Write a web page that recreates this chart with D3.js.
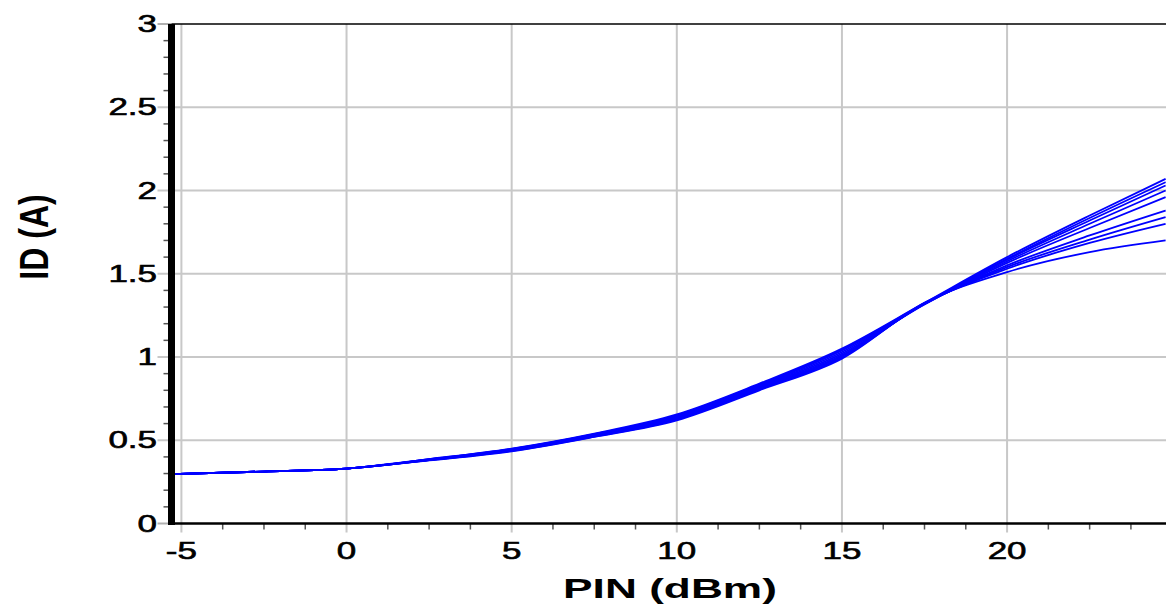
<!DOCTYPE html>
<html>
<head>
<meta charset="utf-8">
<script src="https://cdn.jsdelivr.net/npm/d3@7"></script>
<style>
  html, body { margin: 0; padding: 0; background: #fff; }
  svg { display: block; }
  text { font-family: "Liberation Sans", Arial, sans-serif; fill: #000; }
</style>
</head>
<body>
<svg id="chart" width="1166" height="604"></svg>
<script>
// Input power sweep (dBm)
const pin = [-5.3, -2.5, 0, 2.5, 5, 7.5, 10, 12.5, 15, 17.5, 20, 22.5, 24.8];

// Drain current (A) for each swept condition
const id1 = [0.297, 0.312, 0.330, 0.387, 0.450, 0.540, 0.655, 0.840, 1.050, 1.325, 1.600, 1.850, 2.070];
const id2 = [0.297, 0.312, 0.330, 0.386, 0.448, 0.537, 0.650, 0.835, 1.045, 1.322, 1.590, 1.835, 2.050];
const id3 = [0.297, 0.312, 0.330, 0.385, 0.446, 0.535, 0.645, 0.830, 1.040, 1.320, 1.585, 1.820, 2.030];
const id4 = [0.297, 0.312, 0.330, 0.384, 0.444, 0.532, 0.640, 0.825, 1.030, 1.318, 1.575, 1.800, 2.000];
const id5 = [0.297, 0.312, 0.330, 0.383, 0.442, 0.530, 0.636, 0.820, 1.020, 1.316, 1.565, 1.775, 1.960];
const id6 = [0.297, 0.312, 0.330, 0.382, 0.440, 0.528, 0.632, 0.815, 1.012, 1.318, 1.550, 1.730, 1.880];
const id7 = [0.297, 0.312, 0.330, 0.381, 0.438, 0.525, 0.628, 0.810, 1.005, 1.320, 1.540, 1.705, 1.840];
const id8 = [0.297, 0.312, 0.330, 0.380, 0.436, 0.522, 0.624, 0.805, 0.998, 1.322, 1.530, 1.685, 1.800];
const id9 = [0.297, 0.312, 0.330, 0.379, 0.434, 0.520, 0.620, 0.800, 0.990, 1.325, 1.510, 1.630, 1.700];
const seriesList = [id1, id2, id3, id4, id5, id6, id7, id8, id9];

// Tick labels
const xTicks = [-5, 0, 5, 10, 15, 20];
const yTicks = [0, 0.5, 1, 1.5, 2, 2.5, 3];

const svg = d3.select("#chart");
const x = d3.scaleLinear().domain([-5.3, 24.8]).range([171.5, 1165.6]);
const y = d3.scaleLinear().domain([0, 3]).range([523.5, 24]);
const TXS = 1.52; // horizontal glyph stretch

// minor tick positions
const xMinor = d3.range(-3.75, 24.8, 1.25).filter(v => Math.abs(v / 5 - Math.round(v / 5)) > 1e-6);
const yMinor = d3.range(0.1, 3, 0.1).filter(v => Math.abs(v * 2 - Math.round(v * 2)) > 1e-6);

// grid
const grid = svg.append("g");
grid.selectAll("line.v").data(xTicks).join("line")
  .attr("x1", d => x(d)).attr("x2", d => x(d))
  .attr("y1", y(3)).attr("y2", y(0) + 9)
  .attr("stroke", "#c8c8c8").attr("stroke-width", 2);
grid.selectAll("line.h").data(yTicks.filter(v => v > 0 && v < 3)).join("line")
  .attr("x1", x(-5.3) - 14).attr("x2", 1166)
  .attr("y1", d => y(d)).attr("y2", d => y(d))
  .attr("stroke", "#c8c8c8").attr("stroke-width", 2);

// major ticks outside the left axis at the ends
svg.append("g").selectAll("line").data([0, 3]).join("line")
  .attr("x1", x(-5.3) - 14).attr("x2", x(-5.3))
  .attr("y1", d => y(d)).attr("y2", d => y(d))
  .attr("stroke", "#b0b0b0").attr("stroke-width", 2);

// minor ticks
svg.append("g").selectAll("line").data(xMinor).join("line")
  .attr("x1", d => x(d)).attr("x2", d => x(d))
  .attr("y1", y(0)).attr("y2", y(0) + 6)
  .attr("stroke", "#555").attr("stroke-width", 1.5);
svg.append("g").selectAll("line").data(yMinor).join("line")
  .attr("x1", x(-5.3) - 8).attr("x2", x(-5.3))
  .attr("y1", d => y(d)).attr("y2", d => y(d))
  .attr("stroke", "#555").attr("stroke-width", 1.5);

// curves
const line = d3.line().x((d, i) => x(pin[i])).y(d => y(d)).curve(d3.curveMonotoneX);
svg.append("g").selectAll("path").data(seriesList).join("path")
  .attr("d", line)
  .attr("fill", "none")
  .attr("stroke", "#0000ff")
  .attr("stroke-width", 1.8);

// frame: top border, x axis, thick y axis
svg.append("line").attr("x1", x(-5.3)).attr("x2", 1166).attr("y1", y(3)).attr("y2", y(3))
  .attr("stroke", "#000").attr("stroke-width", 1.5);
svg.append("line").attr("x1", x(-5.3)).attr("x2", 1166).attr("y1", y(0)).attr("y2", y(0))
  .attr("stroke", "#000").attr("stroke-width", 2.5);
svg.append("line").attr("x1", x(-5.3)).attr("x2", x(-5.3)).attr("y1", y(3)).attr("y2", y(0) + 1.5)
  .attr("stroke", "#000").attr("stroke-width", 7);

// tick labels
svg.append("g").selectAll("text").data(yTicks).join("text")
  .attr("transform", d => `translate(157,${y(d)}) scale(${TXS},1)`)
  .attr("text-anchor", "end")
  .attr("dy", "0.35em")
  .attr("font-size", 23)
  .attr("stroke", "#000").attr("stroke-width", 0.6)
  .text(d => d3.format("")(d));
svg.append("g").selectAll("text").data(xTicks).join("text")
  .attr("transform", d => `translate(${x(d)},559) scale(${TXS},1)`)
  .attr("text-anchor", "middle")
  .attr("font-size", 23)
  .attr("stroke", "#000").attr("stroke-width", 0.6)
  .text(d => d);

// axis titles
svg.append("text")
  .attr("transform", `translate(670,598) scale(1.58,1)`)
  .attr("text-anchor", "middle")
  .attr("font-size", 28).attr("font-weight", "bold")
  .text("PIN (dBm)");
svg.append("text")
  .attr("transform", `translate(48,237) rotate(-90) scale(1,1.27)`)
  .attr("text-anchor", "middle")
  .attr("font-size", 32).attr("font-weight", "bold")
  .text("ID (A)");
</script>
</body>
</html>
